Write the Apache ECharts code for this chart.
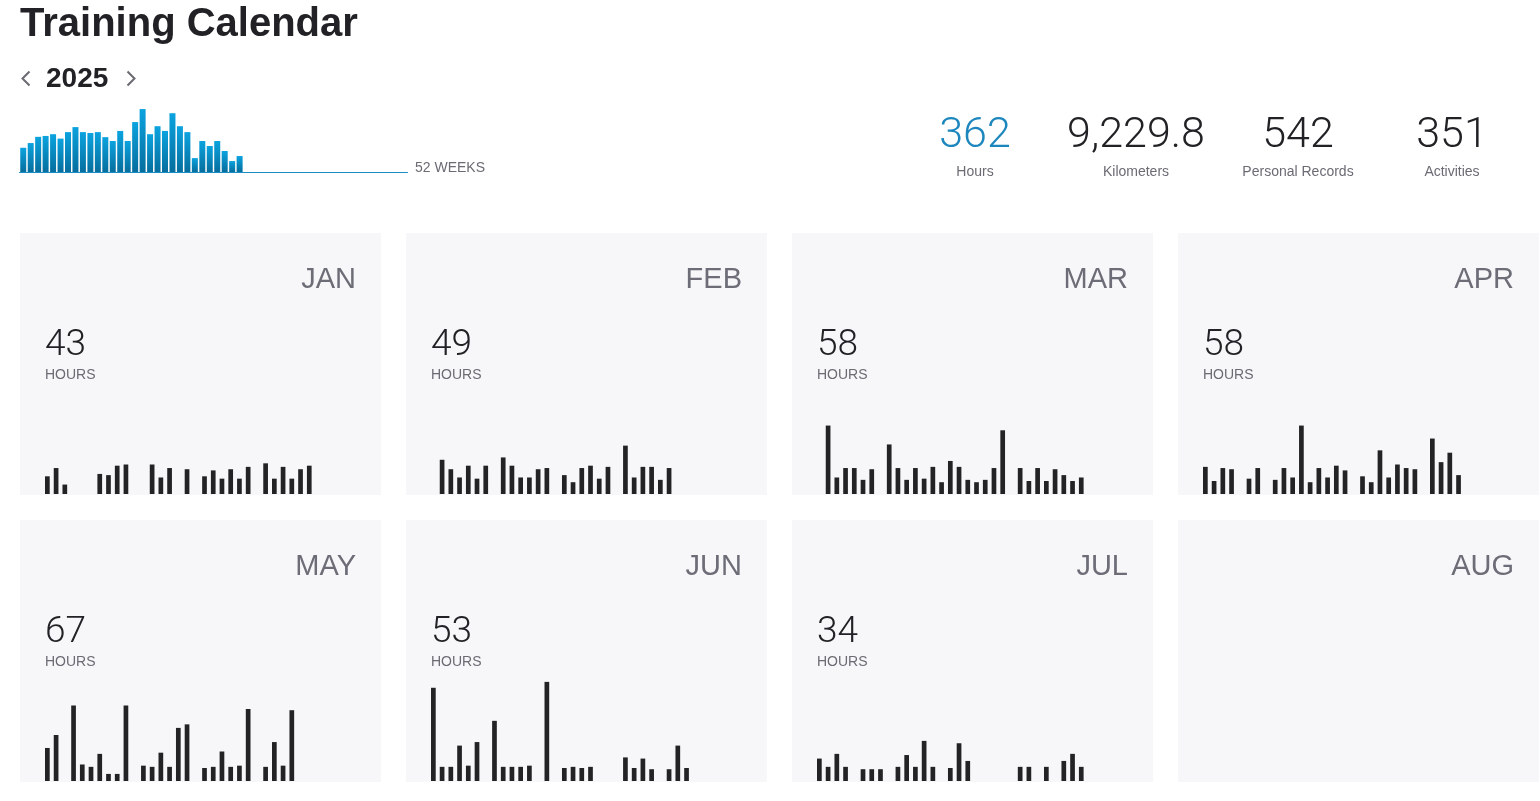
<!DOCTYPE html>
<html>
<head>
<meta charset="utf-8">
<script src="https://cdn.jsdelivr.net/npm/echarts@6/dist/echarts.min.js"></script>
<style>
  html, body { margin: 0; padding: 0; background: #ffffff; }
  #chart { width: 1540px; height: 801px; }
</style>
</head>
<body>
<div id="chart"></div>
<script>
// ---------- DATA ----------
const pageTitle = 'Training Calendar';
const yearLabel = '2025';
const weeksLabel = '52 WEEKS';

// weekly hours (weeks 1..52, only first 30 weeks have data)
const weeklyHours = [8.2, 9.8, 11.9, 12.2, 12.8, 11.3, 13.5, 15.2, 13.5, 13.2,
                     13.5, 11.8, 10.5, 13.9, 10.5, 16.9, 21.3, 12.8, 15.5, 13.9,
                     19.9, 15.5, 13.5, 4.7, 10.5, 8.8, 10.5, 7.1, 3.7, 5.4];
const weekCount = 52;

const statValues = ['362', '9,229.8', '542', '351'];
const statLabels = ['Hours', 'Kilometers', 'Personal Records', 'Activities'];

const monthNames = ['JAN', 'FEB', 'MAR', 'APR', 'MAY', 'JUN', 'JUL', 'AUG'];
const monthTotals = [43, 49, 58, 58, 67, 53, 34, null];
const hoursLabel = 'HOURS';

// daily hours, index 0 = day 1 (null = no activity)
const janDaily = [1.5, 2.2, 0.8, null, null, null, 1.7, 1.6, 2.4, 2.5,
                  null, null, 2.5, 1.4, 2.2, null, 2.1, null, 1.5, 2.0,
                  1.3, 2.1, 1.3, 2.3, null, 2.6, 1.3, 2.3, 1.3, 2.1, 2.4];
const febDaily = [null, 2.9, 2.1, 1.4, 2.4, 1.3, 2.4, null, 3.1, 2.4,
                  1.4, 1.4, 2.1, 2.2, null, 1.6, 1.0, 2.2, 2.4, 1.3,
                  2.3, null, 4.1, 1.4, 2.3, 2.3, 1.2, 2.2];
const marDaily = [null, 5.8, 1.4, 2.2, 2.2, 1.2, 2.1, null, 4.2, 2.2,
                  1.2, 2.2, 1.3, 2.3, 1.0, 2.8, 2.3, 1.2, 1.0, 1.2,
                  2.2, 5.4, null, 2.2, 1.1, 2.2, 1.1, 2.1, 1.6, 1.1, 1.4];
const aprDaily = [2.3, 1.1, 2.2, 2.1, null, 1.3, 2.2, null, 1.2, 2.2,
                  1.4, 5.8, 1.0, 2.2, 1.4, 2.4, 2.0, null, 1.5, 1.0,
                  3.7, 1.4, 2.5, 2.2, 2.1, null, 4.7, 2.7, 3.5, 1.6];
const mayDaily = [2.8, 3.9, null, 6.4, 1.4, 1.2, 2.3, 0.6, 0.6, 6.4,
                  null, 1.3, 1.2, 2.4, 1.2, 4.5, 4.8, null, 1.1, 1.2,
                  2.5, 1.2, 1.3, 6.1, null, 1.2, 3.3, 1.3, 6.0, null, null];
const junDaily = [7.9, 1.2, 1.2, 3.0, 1.3, 3.3, null, 5.1, 1.2, 1.2,
                  1.2, 1.3, null, 8.4, null, 1.1, 1.2, 1.1, 1.2, null,
                  null, null, 2.0, 1.1, 1.9, 1.0, null, 1.0, 3.0, 1.1];
const julDaily = [1.9, 1.2, 2.3, 1.2, null, 1.0, 1.0, 1.0, null, 1.2,
                  2.2, 1.2, 3.4, 1.2, null, 1.1, 3.2, 1.7, null, null,
                  null, null, null, 1.2, 1.2, null, 1.2, null, 1.7, 2.3, 1.2];
const augDaily = [];
const monthDaily = [janDaily, febDaily, marDaily, aprDaily, mayDaily, junDaily, julDaily, augDaily];

const dayCategories = Array.from({length: 31}, (_, i) => String(i + 1));
const weekCategories = Array.from({length: weekCount}, (_, i) => 'W' + (i + 1));

// ---------- LAYOUT ----------
const BASE_FONT = '"Liberation Sans", Arial, sans-serif';
const NUM_FONT = 'Roboto, "Liberation Sans", sans-serif';
const PANEL_W = 361, PANEL_H = 262, PANEL_X0 = 20, PANEL_DX = 386;
const PANEL_Y = [233, 520];
const DAY_SLOT = 8.73;
const BAR_AREA_H = 118, DAY_MAX = 10;

const chart = echarts.init(document.getElementById('chart'), null, {renderer: 'canvas'});

const grids = [], xAxes = [], yAxes = [], series = [], graphics = [];

// weekly chart
grids.push({left: 19.5, top: 107, width: 388, height: 65});
xAxes.push({
  type: 'category', gridIndex: 0, data: weekCategories,
  axisLine: {show: true, lineStyle: {color: '#1b8dc3', width: 1}},
  axisTick: {show: false}, axisLabel: {show: false}, splitLine: {show: false}
});
yAxes.push({type: 'value', gridIndex: 0, min: 0, max: 22, show: false, splitLine: {show: false}});
series.push({
  type: 'bar', xAxisIndex: 0, yAxisIndex: 0, data: weeklyHours, barWidth: 6,
  silent: true,
  itemStyle: {
    color: new echarts.graphic.LinearGradient(0, 0, 0, 1, [
      {offset: 0, color: '#0ba3df'},
      {offset: 1, color: '#066e9e'}
    ])
  }
});

// header texts
graphics.push({type: 'text', left: 20, top: 5, z: 5,
  style: {text: pageTitle, font: 'bold 40px ' + BASE_FONT, fill: '#222226'}});
graphics.push({type: 'text', x: 46, y: 79, z: 5,
  style: {text: yearLabel, font: 'bold 28px ' + BASE_FONT, fill: '#222226', textVerticalAlign: 'middle', verticalAlign: 'middle'}});
graphics.push({type: 'polyline', z: 5, shape: {points: [[29.5, 71.5], [22.5, 78.5], [29.5, 85.5]]},
  style: {stroke: '#6a6a72', lineWidth: 2, fill: null}});
graphics.push({type: 'polyline', z: 5, shape: {points: [[127.5, 71.5], [134.5, 78.5], [127.5, 85.5]]},
  style: {stroke: '#6a6a72', lineWidth: 2, fill: null}});
graphics.push({type: 'text', x: 415, y: 168, z: 5,
  style: {text: weeksLabel, font: '14px ' + BASE_FONT, fill: '#6b6b74', verticalAlign: 'middle', textVerticalAlign: 'middle'}});

// stats
const statX = [975, 1136, 1298, 1452];
statValues.forEach((v, i) => {
  graphics.push({type: 'text', x: statX[i], y: 136, z: 5,
    style: {text: v, font: '300 43px ' + NUM_FONT, fill: i === 0 ? '#1d87bd' : '#222226',
      align: 'center', textAlign: 'center', verticalAlign: 'middle', textVerticalAlign: 'middle'}});
  graphics.push({type: 'text', x: statX[i], y: 172, z: 5,
    style: {text: statLabels[i], font: '14px ' + BASE_FONT, fill: '#6b6b74',
      align: 'center', textAlign: 'center', verticalAlign: 'middle', textVerticalAlign: 'middle'}});
});

// month panels
monthNames.forEach((name, i) => {
  const col = i % 4, row = Math.floor(i / 4);
  const px = PANEL_X0 + col * PANEL_DX, py = PANEL_Y[row];
  graphics.push({type: 'rect', z: -10, shape: {x: px, y: py, width: PANEL_W, height: PANEL_H},
    style: {fill: '#f7f7f9'}});
  graphics.push({type: 'text', x: px + 336, y: py + 47, z: 5,
    style: {text: name, font: '29px ' + BASE_FONT, fill: '#6d6d78', align: 'right', textAlign: 'right',
      verticalAlign: 'middle', textVerticalAlign: 'middle'}});
  if (monthTotals[i] != null) {
    graphics.push({type: 'text', x: px + 25, y: py + 113, z: 5,
      style: {text: String(monthTotals[i]), font: '300 37px ' + NUM_FONT, fill: '#222226',
        verticalAlign: 'middle', textVerticalAlign: 'middle'}});
    graphics.push({type: 'text', x: px + 25, y: py + 142, z: 5,
      style: {text: hoursLabel, font: '14px ' + BASE_FONT, fill: '#6b6b74',
        verticalAlign: 'middle', textVerticalAlign: 'middle'}});
  }
  const gi = grids.length;
  grids.push({left: px + 23, top: py + PANEL_H - 1 - BAR_AREA_H, width: DAY_SLOT * 31, height: BAR_AREA_H});
  xAxes.push({type: 'category', gridIndex: gi, data: dayCategories, show: false});
  yAxes.push({type: 'value', gridIndex: gi, min: 0, max: DAY_MAX, show: false, splitLine: {show: false}});
  series.push({type: 'bar', xAxisIndex: gi, yAxisIndex: gi, data: monthDaily[i], barWidth: 4.7,
    silent: true, itemStyle: {color: '#232326'}});
});

chart.setOption({
  animation: false,
  backgroundColor: '#ffffff',
  grid: grids, xAxis: xAxes, yAxis: yAxes, series: series,
  graphic: {elements: graphics}
});
</script>
</body>
</html>
